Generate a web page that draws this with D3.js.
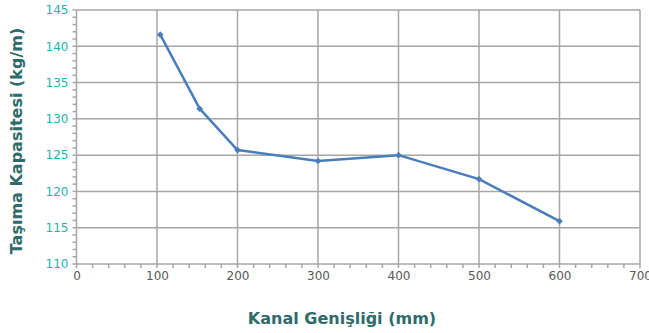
<!DOCTYPE html>
<html><head><meta charset="utf-8">
<script src="https://cdn.jsdelivr.net/npm/d3@7"></script>
<style>body{margin:0;background:#fff}svg{display:block}</style>
</head><body>
<script>
const widths = [104, 153, 200, 300, 400, 500, 600];
const capacity = [141.6, 131.4, 125.7, 124.2, 125.0, 121.7, 115.9];
const xTicks = [0, 100, 200, 300, 400, 500, 600, 700];
const yTicks = [110, 115, 120, 125, 130, 135, 140, 145];
const xTitle = "Kanal Genişliği (mm)";
const yTitle = "Taşıma Kapasitesi (kg/m)";

const W = 649, H = 333;
const svg = d3.select("body").append("svg").attr("width", W).attr("height", H);
const x = d3.scaleLinear().domain([0, 700]).range([76.5, 640]);
const y = d3.scaleLinear().domain([110, 145]).range([264, 10]);
const grid = "#a6a6a6";
const font = "'DejaVu Sans', sans-serif";

// gridlines
svg.append("g").selectAll("line").data(yTicks).join("line")
  .attr("x1", x(0)).attr("x2", x(700)).attr("y1", d => y(d)).attr("y2", d => y(d))
  .attr("stroke", grid).attr("stroke-width", 1.5);
svg.append("g").selectAll("line").data(xTicks).join("line")
  .attr("y1", y(110)).attr("y2", y(145)).attr("x1", d => x(d)).attr("x2", d => x(d))
  .attr("stroke", grid).attr("stroke-width", 1.5);

// minor ticks
const yMinor = d3.range(110, 145.01, 1);
svg.append("g").selectAll("line").data(yMinor).join("line")
  .attr("x1", x(0) - 4).attr("x2", x(0)).attr("y1", d => y(d)).attr("y2", d => y(d))
  .attr("stroke", grid).attr("stroke-width", 1.5);
const xMinor = d3.range(0, 700.01, 20);
svg.append("g").selectAll("line").data(xMinor).join("line")
  .attr("y1", y(110)).attr("y2", y(110) + 4).attr("x1", d => x(d)).attr("x2", d => x(d))
  .attr("stroke", grid).attr("stroke-width", 1.5);

// axes labels
const yAxis = d3.axisLeft(y).tickValues(yTicks).tickSize(0).tickPadding(8);
const gy = svg.append("g").attr("transform", `translate(${x(0)},0)`).call(yAxis);
gy.select(".domain").remove();
gy.selectAll("text").attr("fill", "#1cb5ae").style("font-family", font).style("font-size", "12px");

const xAxis = d3.axisBottom(x).tickValues(xTicks).tickSize(0).tickPadding(7);
const gx = svg.append("g").attr("transform", `translate(0,${y(110)})`).call(xAxis);
gx.select(".domain").remove();
gx.selectAll("text").attr("fill", "#595959").style("font-family", font).style("font-size", "12px");

// line
const data = widths.map((w, i) => ({w, v: capacity[i]}));
svg.append("path").datum(data)
  .attr("fill", "none").attr("stroke", "#4a7ebb").attr("stroke-width", 2.5)
  .attr("stroke-linejoin", "round")
  .attr("d", d3.line().x(d => x(d.w)).y(d => y(d.v)));
svg.append("g").selectAll("path").data(data).join("path")
  .attr("transform", d => `translate(${x(d.w)},${y(d.v)}) rotate(45)`)
  .attr("d", d3.symbol(d3.symbolSquare, 22))
  .attr("fill", "#4a7ebb");

// titles
svg.append("text").text(xTitle)
  .attr("x", 342).attr("y", 324).attr("text-anchor", "middle")
  .attr("fill", "#2e6b6b").style("font-family", font).style("font-weight", "bold").style("font-size", "16px");
svg.append("text").text(yTitle)
  .attr("transform", "translate(22,141) rotate(-90)").attr("text-anchor", "middle")
  .attr("fill", "#2e6b6b").style("font-family", font).style("font-weight", "bold").style("font-size", "16px");
</script>
</body></html>
